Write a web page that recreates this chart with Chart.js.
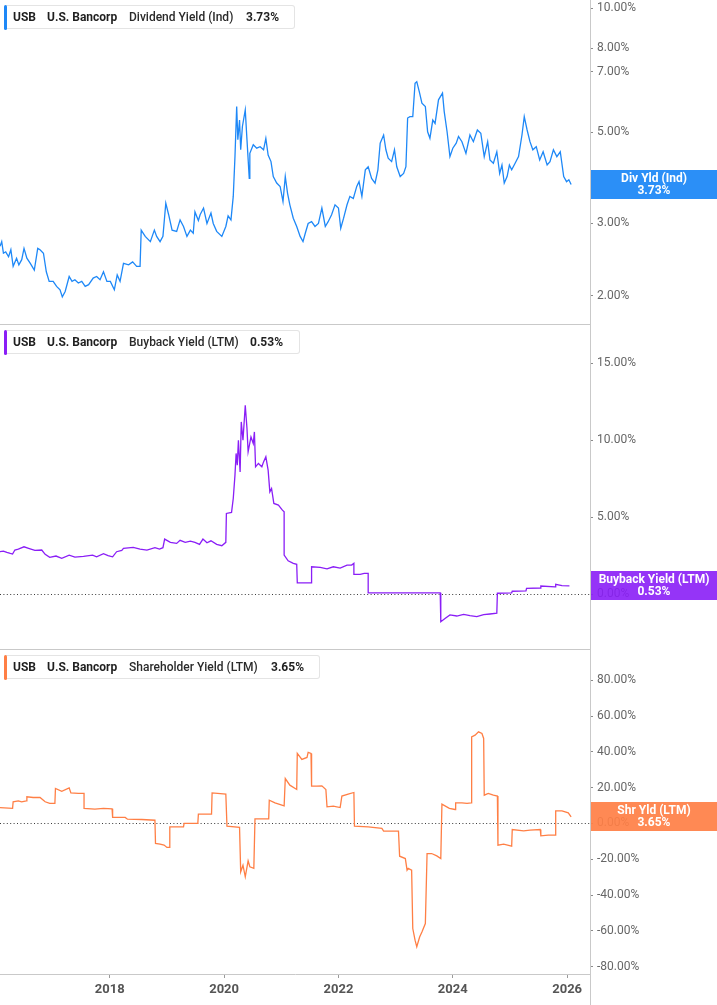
<!DOCTYPE html>
<html>
<head>
<meta charset="utf-8">
<script src="https://cdn.jsdelivr.net/npm/chart.js@4.4.1/dist/chart.umd.min.js"></script>
<style>
  html, body { margin:0; padding:0; background:#fff; }
  body { width:717px; height:1005px; position:relative; overflow:hidden; font-family: Roboto, "Noto Sans", sans-serif; }
  .panel { position:absolute; left:0; width:717px; }
  .panel canvas { position:absolute; left:0; top:0; }
  .legend { position:absolute; left:4px; top:5px; height:24px; background:#fff; border:1px solid #e4e4e4; border-left:none; border-radius:3px; box-sizing:border-box; }
  .legend .bar { position:absolute; left:0; top:-1px; width:3px; height:25px; border-radius:2px; }
  .legend span { position:absolute; top:4px; font-size:12px; line-height:14px; color:#1f1f1f; white-space:nowrap; }
  .legend .b { font-weight:700; }
  .legend .m { font-weight:500; color:#2a2a2a; }
  .tag { position:absolute; left:591px; width:126px; height:29px; color:#fff; font-weight:700; font-size:12px; line-height:11.5px; text-align:center; display:flex; flex-direction:column; justify-content:center; }
</style>
</head>
<body>
<div class="panel" id="p1" style="top:0;height:325px">
  <canvas id="c1"></canvas>
  <div class="legend" style="width:291px"><div class="bar" style="background:#1e88f7"></div>
    <span class="b" style="left:9px">USB</span><span class="b" style="left:43px">U.S. Bancorp</span><span class="m" style="left:125px">Dividend Yield (Ind)</span><span class="b" style="left:242px">3.73%</span></div>
  <div class="tag" id="t1" style="background:rgba(30,136,247,0.94)"><div>Div Yld (Ind)</div><div>3.73%</div></div>
</div>
<div class="panel" id="p2" style="top:325px;height:325px">
  <canvas id="c2"></canvas>
  <div class="legend" style="width:296px"><div class="bar" style="background:#8a1ef6"></div>
    <span class="b" style="left:9px">USB</span><span class="b" style="left:43px">U.S. Bancorp</span><span class="m" style="left:125px">Buyback Yield (LTM)</span><span class="b" style="left:246px">0.53%</span></div>
  <div class="tag" id="t2" style="background:rgba(138,30,246,0.9)"><div>Buyback Yield (LTM)</div><div>0.53%</div></div>
</div>
<div class="panel" id="p3" style="top:650px;height:355px">
  <canvas id="c3"></canvas>
  <div class="legend" style="width:316px"><div class="bar" style="background:#ff7f45"></div>
    <span class="b" style="left:9px">USB</span><span class="b" style="left:43px">U.S. Bancorp</span><span class="m" style="left:125px">Shareholder Yield (LTM)</span><span class="b" style="left:267px">3.65%</span></div>
  <div class="tag" id="t3" style="background:rgba(255,127,69,0.92)"><div>Shr Yld (LTM)</div><div>3.65%</div></div>
</div>

<script>
// ---- x axis (decimal years) ----
const yearTicks = [2018, 2020, 2022, 2024, 2026];
const xMin = 2016.08, xMax = 2026.40;

// ---- Dividend Yield (Ind), % ----
const divDates = [
  2016.08,2016.11,2016.14,2016.18,2016.23,2016.27,2016.31,2016.37,2016.41,2016.46,2016.50,2016.55,2016.61,2016.68,2016.74,2016.78,2016.84,2016.89,2016.94,
  2017.01,2017.07,2017.13,2017.17,2017.22,2017.29,2017.34,2017.39,2017.45,2017.51,2017.57,2017.63,2017.71,2017.77,2017.83,2017.89,2017.95,
  2018.01,2018.08,2018.13,2018.18,2018.24,2018.33,2018.40,2018.47,2018.53,2018.55,2018.62,2018.71,2018.78,2018.82,2018.88,2018.93,2018.98,
  2019.03,2019.09,2019.17,2019.23,2019.29,2019.35,2019.41,2019.46,2019.49,2019.55,2019.58,2019.64,2019.70,2019.77,2019.81,2019.87,2019.96,
  2020.03,2020.07,2020.12,2020.16,2020.19,2020.22,2020.24,2020.27,2020.29,2020.32,2020.37,2020.40,2020.44,2020.45,2020.51,2020.57,2020.63,2020.69,2020.73,2020.77,2020.82,2020.86,2020.92,2020.98,
  2021.03,2021.07,2021.11,2021.15,2021.21,2021.27,2021.33,2021.38,2021.42,2021.47,2021.53,2021.59,2021.65,2021.71,2021.77,2021.82,2021.88,2021.94,
  2022.00,2022.04,2022.09,2022.15,2022.20,2022.26,2022.32,2022.36,2022.41,2022.47,2022.52,2022.58,2022.64,2022.69,2022.73,2022.79,2022.83,2022.87,2022.93,2022.98,
  2023.02,2023.08,2023.14,2023.18,2023.21,2023.25,2023.30,2023.34,2023.37,2023.42,2023.46,2023.52,2023.56,2023.60,2023.65,2023.69,2023.75,2023.82,2023.85,2023.90,2023.95,
  2024.00,2024.06,2024.10,2024.16,2024.23,2024.30,2024.36,2024.43,2024.49,2024.55,2024.61,2024.65,2024.71,2024.77,2024.82,2024.86,2024.90,2024.95,2024.99,
  2025.03,2025.09,2025.15,2025.21,2025.25,2025.30,2025.35,2025.40,2025.46,2025.52,2025.58,2025.65,2025.70,2025.76,2025.82,2025.88,2025.94,2025.99,
  2026.03,2026.07
];
const divValues = [
  2.64,2.71,2.54,2.56,2.49,2.59,2.36,2.47,2.38,2.45,2.61,2.47,2.40,2.31,2.61,2.59,2.54,2.29,2.17,
  2.17,2.11,2.07,1.99,2.05,2.23,2.17,2.19,2.15,2.17,2.11,2.13,2.21,2.23,2.19,2.29,2.17,
  2.17,2.07,2.25,2.17,2.40,2.38,2.42,2.36,2.36,2.89,2.79,2.71,2.89,2.79,2.71,2.79,3.36,
  3.15,2.89,2.87,3.06,2.95,2.79,2.89,2.84,3.20,3.05,3.15,3.27,3.00,3.18,3.00,2.87,2.79,
  2.95,3.13,3.06,3.49,4.36,5.77,4.79,5.35,4.53,5.16,5.66,4.79,3.86,4.44,4.66,4.57,4.61,4.53,4.83,4.40,4.24,3.90,3.76,3.69,
  3.39,3.90,3.55,3.33,3.09,2.95,2.79,2.71,2.84,3.00,3.03,2.95,3.00,3.27,2.95,3.03,3.15,3.33,
  3.27,2.92,3.09,3.33,3.49,3.45,3.69,3.79,3.49,4.05,4.12,3.86,3.76,4.05,4.70,4.92,4.53,4.32,4.24,4.53,
  4.12,3.90,3.97,4.12,5.41,5.45,5.45,6.57,6.63,6.22,5.88,5.77,5.01,4.83,5.35,5.25,5.99,6.22,5.61,5.01,4.36,
  4.57,4.70,4.88,4.74,4.44,4.92,4.74,5.06,4.97,4.36,4.74,4.28,4.20,4.48,3.97,4.16,3.76,3.90,4.16,
  4.05,4.20,4.36,4.92,5.45,5.06,4.74,4.53,4.61,4.28,4.48,4.16,4.24,4.53,4.36,4.48,3.90,3.79,
  3.83,3.73
];
const divTicks = [2, 3, 5, 7, 8, 10];

// ---- Buyback Yield (LTM), % ----
const bbDates = [
  2016.08,2016.14,2016.20,2016.26,2016.30,2016.34,2016.40,2016.50,2016.58,2016.69,2016.81,2016.87,2016.95,
  2017.06,2017.16,2017.29,2017.39,2017.54,2017.70,2017.77,2017.89,2017.97,
  2018.05,2018.12,2018.21,2018.24,2018.41,2018.53,2018.65,2018.79,2018.87,2018.93,2018.96,
  2019.06,2019.17,2019.23,2019.32,2019.41,2019.49,2019.57,2019.63,2019.70,2019.77,2019.87,2019.96,
  2020.03,2020.04,2020.13,2020.16,2020.19,2020.21,2020.23,2020.25,2020.28,2020.30,2020.33,2020.37,2020.40,2020.42,2020.47,2020.51,2020.53,2020.55,2020.60,2020.66,2020.69,2020.73,2020.77,2020.80,2020.83,2020.87,2020.95,
  2021.02,2021.05,2021.05,2021.12,2021.21,2021.27,2021.28,2021.53,2021.53,2021.68,2021.80,2021.91,
  2022.03,2022.15,2022.23,2022.27,2022.27,2022.38,2022.45,2022.52,2022.52,
  2023.20,2023.78,2023.79,2023.87,2023.95,
  2024.07,2024.19,2024.30,2024.42,2024.54,2024.65,2024.77,2024.78,
  2025.03,2025.04,2025.28,2025.29,2025.53,2025.54,2025.79,2025.80,2025.91,
  2026.04
];
const bbValues = [
  2.75,2.79,2.71,2.64,2.60,2.86,2.92,3.07,2.97,2.84,2.86,2.58,2.38,
  2.47,2.32,2.53,2.40,2.45,2.53,2.42,2.62,2.49,
  2.42,2.75,2.84,2.97,3.03,2.92,2.86,3.01,2.92,3.01,3.57,
  3.36,3.29,3.49,3.36,3.44,3.36,3.23,3.57,3.33,3.46,3.23,3.14,
  3.36,5.24,5.31,6.21,7.73,9.14,8.38,10.00,7.94,11.19,10.00,12.27,10.76,9.24,10.21,9.79,10.54,8.27,8.49,8.27,8.59,8.92,8.05,6.64,6.86,5.89,5.78,
  5.45,5.34,2.53,2.16,1.99,1.93,0.73,0.73,1.77,1.73,1.64,1.77,
  1.69,1.88,1.88,1.99,1.28,1.28,1.34,1.34,0.08,
  0.08,0.08,-1.80,-1.58,-1.36,
  -1.43,-1.32,-1.41,-1.47,-1.34,-1.30,-1.25,0.05,
  0.08,0.18,0.21,0.37,0.39,0.52,0.47,0.63,0.54,
  0.53
];
const bbTicks = [0, 5, 10, 15];

// ---- Shareholder Yield (LTM), % ----
const shrDates = [
  2016.08,2016.30,2016.31,2016.40,2016.46,2016.54,2016.55,2016.66,2016.78,2016.87,2016.95,
  2017.04,2017.05,2017.16,2017.29,2017.32,2017.45,2017.55,2017.55,2017.74,2017.89,
  2018.04,2018.05,2018.27,2018.31,2018.56,2018.79,2018.80,2018.88,2018.95,
  2019.00,2019.04,2019.05,2019.29,2019.30,2019.54,2019.55,2019.78,2019.79,
  2020.03,2020.05,2020.27,2020.29,2020.33,2020.37,2020.42,2020.45,2020.52,2020.54,2020.78,2020.79,2020.89,
  2021.05,2021.07,2021.15,2021.27,2021.28,2021.36,2021.45,2021.47,2021.52,2021.53,2021.62,2021.71,2021.78,2021.80,2021.91,
  2022.03,2022.06,2022.17,2022.27,2022.28,2022.52,2022.76,2022.79,
  2023.05,2023.07,2023.17,2023.20,2023.22,2023.28,2023.30,2023.34,2023.37,2023.42,2023.46,2023.52,2023.55,2023.63,2023.72,2023.79,2023.81,2023.94,
  2024.04,2024.05,2024.16,2024.25,2024.32,2024.33,2024.39,2024.45,2024.51,2024.54,2024.55,2024.62,2024.71,2024.78,2024.79,2024.89,
  2025.03,2025.04,2025.24,2025.35,2025.53,2025.54,2025.67,2025.79,2025.80,2025.91,
  2026.02,2026.07
];
const shrValues = [
  8.9,8.4,12.1,12.6,12.1,12.6,14.9,14.5,14.5,12.1,11.2,
  11.2,19.6,18.0,19.9,17.1,16.8,16.8,8.4,8.0,8.4,
  8.2,3.4,3.4,2.4,2.2,1.8,-11.2,-11.6,-12.1,
  -13.4,-13.4,-1.9,-1.9,0.0,0.0,5.2,5.2,17.1,
  16.4,-1.5,-2.2,-27.0,-23.3,-29.8,-20.9,-24.2,-25.1,2.6,2.6,13.0,11.5,
  9.8,25.1,21.4,19.0,39.1,35.8,36.9,39.7,39.1,20.8,20.8,21.0,19.0,9.3,9.7,
  8.9,15.3,16.4,17.3,-1.5,-1.9,-2.8,-4.3,
  -4.3,-18.3,-19.6,-26.1,-25.1,-26.1,-58.7,-65.2,-68.9,-63.4,-60.6,-55.9,-16.8,-16.8,-18.1,-19.6,10.8,8.4,
  7.8,11.5,11.5,11.2,11.5,48.4,49.3,51.2,50.3,47.5,15.8,16.8,15.8,15.3,-12.1,-11.6,
  -12.7,-3.4,-4.1,-3.7,-3.4,-6.9,-6.5,-6.5,7.0,7.0,
  5.9,3.65
];
const shrTicks = [-80, -60, -40, -20, 0, 20, 40, 60, 80];

// ---- helpers ----
const deco = {
  id: 'deco',
  beforeDatasetsDraw(chart, args, opts) {
    if (!opts.zero) return;
    const {ctx, chartArea} = chart;
    const y = chart.scales.y.getPixelForValue(0);
    ctx.save();
    ctx.strokeStyle = '#3a3a3a';
    ctx.lineWidth = 1;
    ctx.setLineDash([1, 2.4]);
    ctx.beginPath();
    ctx.moveTo(chartArea.left, Math.round(y) + 0.5);
    ctx.lineTo(chartArea.right, Math.round(y) + 0.5);
    ctx.stroke();
    ctx.restore();
  },
  afterDraw(chart, args, opts) {
    const {ctx, chartArea} = chart;
    ctx.save();
    ctx.strokeStyle = '#c9c9c9';
    ctx.lineWidth = 1;
    ctx.beginPath();
    ctx.moveTo(chartArea.right + 0.5, 0);
    ctx.lineTo(chartArea.right + 0.5, chart.height);
    ctx.stroke();
    if (opts.sep) {
      ctx.beginPath();
      ctx.moveTo(0, chartArea.bottom - 0.5);
      ctx.lineTo(chartArea.right, chartArea.bottom - 0.5);
      ctx.stroke();
    }
    ctx.restore();
    if (opts.tagId) {
      const y = chart.scales.y.getPixelForValue(opts.last);
      document.getElementById(opts.tagId).style.top = (y - 14.5) + 'px';
    }
  }
};

function makeChart(id, h, dates, values, color, yType, yMin, yMax, yTicks, showX, sep, zero, tagId) {
  const cv = document.getElementById(id);
  cv.width = 717; cv.height = h;
  cv.style.width = '717px'; cv.style.height = h + 'px';
  const data = dates.map((d, i) => ({x: d, y: values[i]}));
  return new Chart(cv, {
    type: 'line',
    data: { datasets: [{ data, borderColor: color, borderWidth: 1.3, pointRadius: 0, tension: 0, fill: false }] },
    options: {
      responsive: false, animation: false, parsing: false, normalized: true,
      layout: { padding: 0 },
      plugins: { legend: { display: false }, tooltip: { enabled: false },
        deco: { sep, zero, tagId, last: values[values.length - 1] } },
      scales: {
        x: {
          type: 'linear', min: xMin, max: xMax, display: showX,
          afterBuildTicks: s => { s.ticks = yearTicks.map(v => ({value: v})); },
          afterFit: s => { s.height = showX ? 31 : 0; s.paddingLeft = 0; s.paddingRight = 0; },
          ticks: { callback: v => String(v), color: '#555', font: {family: 'Roboto', size: 13, weight: 'bold'}, padding: 4, maxRotation: 0, autoSkip: false },
          grid: { drawOnChartArea: false, tickLength: 4, tickColor: '#9a9a9a' },
          border: { color: '#c9c9c9' }
        },
        y: {
          type: yType, position: 'right', min: yMin, max: yMax,
          afterBuildTicks: s => { s.ticks = yTicks.map(v => ({value: v})); },
          afterFit: s => { s.width = 127; s.paddingTop = 0; s.paddingBottom = 0; },
          ticks: { callback: v => Number(v).toFixed(2) + '%', color: '#666', font: {family: 'Roboto', size: 12}, padding: 4, autoSkip: false },
          grid: { drawOnChartArea: false, tickLength: 3, tickColor: '#8a8a8a' },
          border: { display: false }
        }
      }
    },
    plugins: [deco]
  });
}

makeChart('c1', 325, divDates, divValues, '#1e88f7', 'logarithmic', 1.70, 10.47, divTicks, false, true, false, 't1');
makeChart('c2', 325, bbDates, bbValues, '#8a1ef6', 'linear', -3.64, 17.49, bbTicks, false, true, true, 't2');
makeChart('c3', 355, shrDates, shrValues, '#ff7f45', 'linear', -84.1, 96.9, shrTicks, true, false, true, 't3');
</script>
</body>
</html>
